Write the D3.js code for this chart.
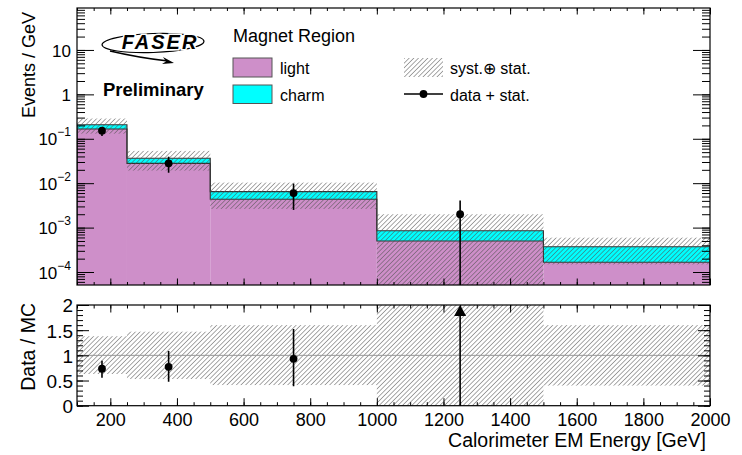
<!DOCTYPE html>
<html lang="en">
<head>
<meta charset="UTF-8">
<title>FASER calorimeter EM energy</title>
<style>
    body { margin: 0; background: #fff; }
    svg { display: block; font-family: "Liberation Sans", Arial, Helvetica, sans-serif; }
</style>
</head>
<body>
<svg width="742" height="455"></svg>
<script src="https://d3js.org/d3.v7.min.js"></script>
<script>
// bins in calorimeter EM energy [GeV]
const binEdges = [100, 250, 500, 1000, 1500, 2000]
// MC prediction, events / GeV
const lightMC = [0.166, 0.028, 0.00434, 0.00050, 0.000166]
const charmMC = [0.041, 0.0083, 0.0021, 0.00035, 0.000205]
// syst. (+) stat. band, relative to total MC
const bandHi = [1.38, 1.47, 1.60, 2.35, 1.60]
const bandLo = [0.63, 0.53, 0.41, -0.35, 0.40]
// data + stat.
const dataX = [175, 375, 750, 1250]
const dataY = [0.152, 0.028, 0.0060, 0.0020]
const dataHi = [0.185, 0.0395, 0.0098, 0.0041]
const dataLo = [0.115, 0.0172, 0.0025, 0]

const xMajor = d3.range(200, 2001, 200)
const yUpMajor = [1e-4, 1e-3, 1e-2, 1e-1, 1, 10]
const yLoMajor = [0, 0.5, 1, 1.5, 2]

const pink = '#ce8fc9', cyan = '#00ffff'
const svg = d3.select('svg')

const x = d3.scaleLinear().domain([100, 2000]).range([77, 710])
const yUp = d3.scaleLog().domain([5.1e-5, 88]).range([285, 8])
const yLo = d3.scaleLinear().domain([0, 2]).range([405.7, 305])

const total = lightMC.map((v, i) => v + charmMC[i])
const bins = lightMC.map((v, i) => ({
    x0: binEdges[i], x1: binEdges[i + 1],
    light: v, tot: total[i], hi: bandHi[i], lo: bandLo[i]
}))

// hatch pattern
const defs = svg.append('defs')
defs.append('pattern')
    .attr('id', 'hatch').attr('patternUnits', 'userSpaceOnUse')
    .attr('width', 3.3).attr('height', 3.3)
    .attr('patternTransform', 'rotate(45)')
  .append('line')
    .attr('x1', 0).attr('y1', 0).attr('x2', 0).attr('y2', 3.3)
    .attr('stroke', '#505050').attr('stroke-width', 1)
defs.append('clipPath').attr('id', 'clipUp').append('rect')
    .attr('x', 77).attr('y', 8).attr('width', 633).attr('height', 277)
defs.append('clipPath').attr('id', 'clipLo').append('rect')
    .attr('x', 77).attr('y', 305).attr('width', 633).attr('height', 100.7)

const yb = v => v <= yUp.domain()[0] ? yUp.range()[0] : yUp(v)

// ---------- upper pad ----------
const up = svg.append('g').attr('clip-path', 'url(#clipUp)')
up.selectAll('rect.light').data(bins).enter().append('rect')
    .attr('x', d => x(d.x0)).attr('width', d => x(d.x1) - x(d.x0))
    .attr('y', d => yUp(d.light)).attr('height', d => 285 - yUp(d.light))
    .attr('fill', pink)
up.selectAll('rect.charm').data(bins).enter().append('rect')
    .attr('x', d => x(d.x0)).attr('width', d => x(d.x1) - x(d.x0))
    .attr('y', d => yUp(d.tot)).attr('height', d => yUp(d.light) - yUp(d.tot))
    .attr('fill', cyan)

const stepPath = key => {
    let p = `M${x(binEdges[0])},285`
    bins.forEach(d => { p += `V${yUp(d[key])}H${x(d.x1)}` })
    return p + 'V285'
}
up.append('path').attr('d', stepPath('light'))
    .attr('fill', 'none').attr('stroke', '#333').attr('stroke-width', 1.1)
up.append('path').attr('d', stepPath('tot'))
    .attr('fill', 'none').attr('stroke', '#333').attr('stroke-width', 1.1)

up.selectAll('rect.band').data(bins).enter().append('rect')
    .attr('x', d => x(d.x0)).attr('width', d => x(d.x1) - x(d.x0))
    .attr('y', d => yUp(d.tot * d.hi))
    .attr('height', d => yb(d.tot * d.lo) - yUp(d.tot * d.hi))
    .attr('fill', 'url(#hatch)')

const pts = dataX.map((v, i) => ({ x: v, y: dataY[i], hi: dataHi[i], lo: dataLo[i], mc: total[i] }))
up.selectAll('line.err').data(pts).enter().append('line')
    .attr('x1', d => x(d.x)).attr('x2', d => x(d.x))
    .attr('y1', d => yUp(d.hi)).attr('y2', d => yb(d.lo))
    .attr('stroke', '#000').attr('stroke-width', 1.6)
up.selectAll('circle').data(pts).enter().append('circle')
    .attr('cx', d => x(d.x)).attr('cy', d => yUp(d.y)).attr('r', 3.9)

// ---------- lower pad ----------
const lo = svg.append('g').attr('clip-path', 'url(#clipLo)')
lo.selectAll('rect').data(bins).enter().append('rect')
    .attr('x', d => x(d.x0)).attr('width', d => x(d.x1) - x(d.x0))
    .attr('y', d => yLo(d.hi)).attr('height', d => yLo(d.lo) - yLo(d.hi))
    .attr('fill', 'url(#hatch)')
lo.append('line').attr('x1', 77).attr('x2', 710).attr('y1', yLo(1)).attr('y2', yLo(1))
    .attr('stroke', '#999').attr('stroke-width', 1)
const inRange = pts.filter(d => d.y / d.mc <= 2)
const offRange = pts.filter(d => d.y / d.mc > 2)
lo.selectAll('line.rerr').data(inRange).enter().append('line')
    .attr('x1', d => x(d.x)).attr('x2', d => x(d.x))
    .attr('y1', d => yLo(d.hi / d.mc)).attr('y2', d => yLo(d.lo / d.mc))
    .attr('stroke', '#000').attr('stroke-width', 1.6)
lo.selectAll('circle').data(inRange).enter().append('circle')
    .attr('cx', d => x(d.x)).attr('cy', d => yLo(d.y / d.mc)).attr('r', 3.9)
lo.selectAll('line.arr').data(offRange).enter().append('line')
    .attr('x1', d => x(d.x)).attr('x2', d => x(d.x))
    .attr('y1', d => yLo(Math.max(0, d.lo / d.mc))).attr('y2', yLo(2) + 8)
    .attr('stroke', '#000').attr('stroke-width', 1.6)
lo.selectAll('path.arr').data(offRange).enter().append('path')
    .attr('d', d => `M${x(d.x)},${yLo(2)}l-6,11h12z`).attr('fill', '#000')

// ---------- axes ----------
const logMinor = []
for (let e = -5; e <= 1; e++) for (let k = 1; k <= 9; k++) {
    const v = k * Math.pow(10, e)
    if (v >= 5.1e-5 && v <= 88) logMinor.push(v)
}
const xMinor = d3.range(100, 2001, 50)
const yLoMinor = d3.range(0, 2.001, 0.1)

function ticks(axis, vals, size, tx, ty) {
    const g = svg.append('g').attr('transform', `translate(${tx},${ty})`)
        .call(axis.tickValues(vals).tickSize(size).tickFormat(''))
    g.select('.domain').remove()
    g.selectAll('line').attr('stroke', '#000').attr('stroke-width', 1)
    return g
}
// upper pad y ticks
ticks(d3.axisRight(yUp), logMinor, 8, 77, 0)
ticks(d3.axisRight(yUp), yUpMajor, 17, 77, 0)
ticks(d3.axisLeft(yUp), logMinor, 8, 710, 0)
ticks(d3.axisLeft(yUp), yUpMajor, 17, 710, 0)
// upper pad x ticks
ticks(d3.axisTop(x), xMinor, 3, 0, 285)
ticks(d3.axisTop(x), xMajor, 6.5, 0, 285)
ticks(d3.axisBottom(x), xMinor, 3, 0, 8)
ticks(d3.axisBottom(x), xMajor, 6.5, 0, 8)
// lower pad ticks
ticks(d3.axisRight(yLo), yLoMinor, 6, 77, 0)
ticks(d3.axisRight(yLo), yLoMajor, 12, 77, 0)
ticks(d3.axisLeft(yLo), yLoMinor, 6, 710, 0)
ticks(d3.axisLeft(yLo), yLoMajor, 12, 710, 0)
ticks(d3.axisTop(x), xMinor, 3.5, 0, 405.7)
ticks(d3.axisTop(x), xMajor, 7.5, 0, 405.7)
ticks(d3.axisBottom(x), xMinor, 3.5, 0, 305)
ticks(d3.axisBottom(x), xMajor, 7.5, 0, 305)

// frames
svg.append('rect').attr('x', 77).attr('y', 8).attr('width', 633).attr('height', 277)
    .attr('fill', 'none').attr('stroke', '#000').attr('stroke-width', 1.2)
svg.append('rect').attr('x', 77).attr('y', 305).attr('width', 633).attr('height', 100.7)
    .attr('fill', 'none').attr('stroke', '#000').attr('stroke-width', 1.2)

// tick labels
const upLab = svg.append('g').attr('transform', 'translate(77,0)')
    .call(d3.axisLeft(yUp).tickValues(yUpMajor).tickSize(0).tickPadding(6).tickFormat(''))
upLab.select('.domain').remove()
upLab.selectAll('text').attr('font-size', 17).attr('fill', '#000').attr('dy', '0.36em')
    .each(function (d) {
        const t = d3.select(this), e = Math.round(Math.log10(d))
        if (e === 0) t.text('1')
        else if (e === 1) t.text('10')
        else {
            t.append('tspan').text('10')
            t.append('tspan').text('\u2212' + (-e)).attr('font-size', 12).attr('dy', '-0.75em')
        }
    })
const loLab = svg.append('g').attr('transform', 'translate(77,0)')
    .call(d3.axisLeft(yLo).tickValues(yLoMajor).tickSize(0).tickPadding(4).tickFormat(d3.format('')))
loLab.select('.domain').remove()
loLab.selectAll('text').attr('font-size', 19).attr('fill', '#000').attr('dy', '0.36em')
const xLab = svg.append('g').attr('transform', 'translate(0,405.7)')
    .call(d3.axisBottom(x).tickValues(xMajor).tickSize(0).tickPadding(8).tickFormat(d3.format('')))
xLab.select('.domain').remove()
xLab.selectAll('text').attr('font-size', 18).attr('fill', '#000')

// axis titles
svg.append('text').attr('transform', 'translate(35,12) rotate(-90)')
    .attr('text-anchor', 'end').attr('font-size', 18).text('Events / GeV')
svg.append('text').attr('transform', 'translate(35,303) rotate(-90)')
    .attr('text-anchor', 'end').attr('font-size', 19.5).text('Data / MC')
svg.append('text').attr('x', 706).attr('y', 447)
    .attr('text-anchor', 'end').attr('font-size', 19.5).text('Calorimeter EM Energy [GeV]')

// FASER logo
const logo = svg.append('g')
logo.append('ellipse').attr('cx', 153).attr('cy', 43).attr('rx', 51).attr('ry', 9.5)
    .attr('fill', 'none').attr('stroke', '#000').attr('stroke-width', 1.2)
    .attr('transform', 'rotate(-2,153,43)')
logo.append('text').attr('x', 160).attr('y', 49).attr('text-anchor', 'middle')
    .attr('font-size', 20).attr('font-weight', 'bold').attr('font-style', 'italic')
    .attr('letter-spacing', 2).attr('stroke', '#fff').attr('stroke-width', 3)
    .attr('paint-order', 'stroke').text('FASER')
logo.append('path').attr('d', 'M110,51 Q140,58 168,61').attr('fill', 'none')
    .attr('stroke', '#000').attr('stroke-width', 1.3)
logo.append('path').attr('d', 'M174,63 L163,57 L166,61.5 L162,64 Z').attr('fill', '#000')
svg.append('text').attr('x', 103).attr('y', 96).attr('font-size', 18.5)
    .attr('font-weight', 'bold').text('Preliminary')

// legend
const leg = svg.append('g')
leg.append('text').attr('x', 233).attr('y', 41.5).attr('font-size', 18).text('Magnet Region')
leg.append('rect').attr('x', 233).attr('y', 58).attr('width', 39).attr('height', 19)
    .attr('fill', pink).attr('stroke', '#555')
leg.append('rect').attr('x', 233).attr('y', 85).attr('width', 39).attr('height', 18.5)
    .attr('fill', cyan).attr('stroke', '#555')
leg.append('text').attr('x', 280).attr('y', 74).attr('font-size', 16).text('light')
leg.append('text').attr('x', 280).attr('y', 100.5).attr('font-size', 16).text('charm')
leg.append('rect').attr('x', 404).attr('y', 58).attr('width', 39).attr('height', 19)
    .attr('fill', 'url(#hatch)')
leg.append('line').attr('x1', 404).attr('x2', 443).attr('y1', 94).attr('y2', 94)
    .attr('stroke', '#000').attr('stroke-width', 1.4)
leg.append('circle').attr('cx', 423.5).attr('cy', 94).attr('r', 3.9)
leg.append('text').attr('x', 450).attr('y', 74).attr('font-size', 16).text('syst.\u2295 stat.')
leg.append('text').attr('x', 450).attr('y', 100.5).attr('font-size', 16).text('data + stat.')
</script>
</body>
</html>
